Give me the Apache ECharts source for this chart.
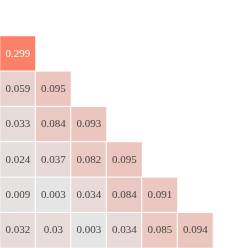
<!DOCTYPE html>
<html><head><meta charset="utf-8">
<script src="https://cdn.jsdelivr.net/npm/echarts@6/dist/echarts.min.js"></script>
<style>html,body{margin:0;padding:0;background:#fff}#c{width:248px;height:248px}</style>
</head><body><div id="c"></div>
<script>
var cols = ['0','1','2','3','4','5'];
var rows = ['0','1','2','3','4','5'];
var row0 = [0.299];
var row1 = [0.059, 0.095];
var row2 = [0.033, 0.084, 0.093];
var row3 = [0.024, 0.037, 0.082, 0.095];
var row4 = [0.009, 0.003, 0.034, 0.084, 0.091];
var row5 = [0.032, 0.03, 0.003, 0.034, 0.085, 0.094];
var allRows = [row0, row1, row2, row3, row4, row5];
var data = [];
allRows.forEach(function(r, i){ r.forEach(function(v, j){
  var item = {value: [j, i, v]};
  if (v > 0.2) item.label = {color: '#fff'};
  data.push(item);
}); });
var chart = echarts.init(document.getElementById('c'));
chart.setOption({
  animation: false,
  grid: {left: 0, top: 36, width: 213, height: 212},
  xAxis: {type: 'category', data: cols, show: false},
  yAxis: {type: 'category', data: rows, inverse: true, show: false},
  visualMap: {show: false, min: 0.003, max: 0.299, dimension: 2, inRange: {color: ['#e5e5e5', '#fa8068']}},
  series: [{
    type: 'heatmap', data: data,
    itemStyle: {borderColor: '#fff', borderWidth: 1},
    label: {show: true, fontFamily: 'Liberation Serif', fontSize: 11,
      formatter: function(p){ return String(p.value[2]); },
      color: '#444'}
  }]
});
</script></body></html>
